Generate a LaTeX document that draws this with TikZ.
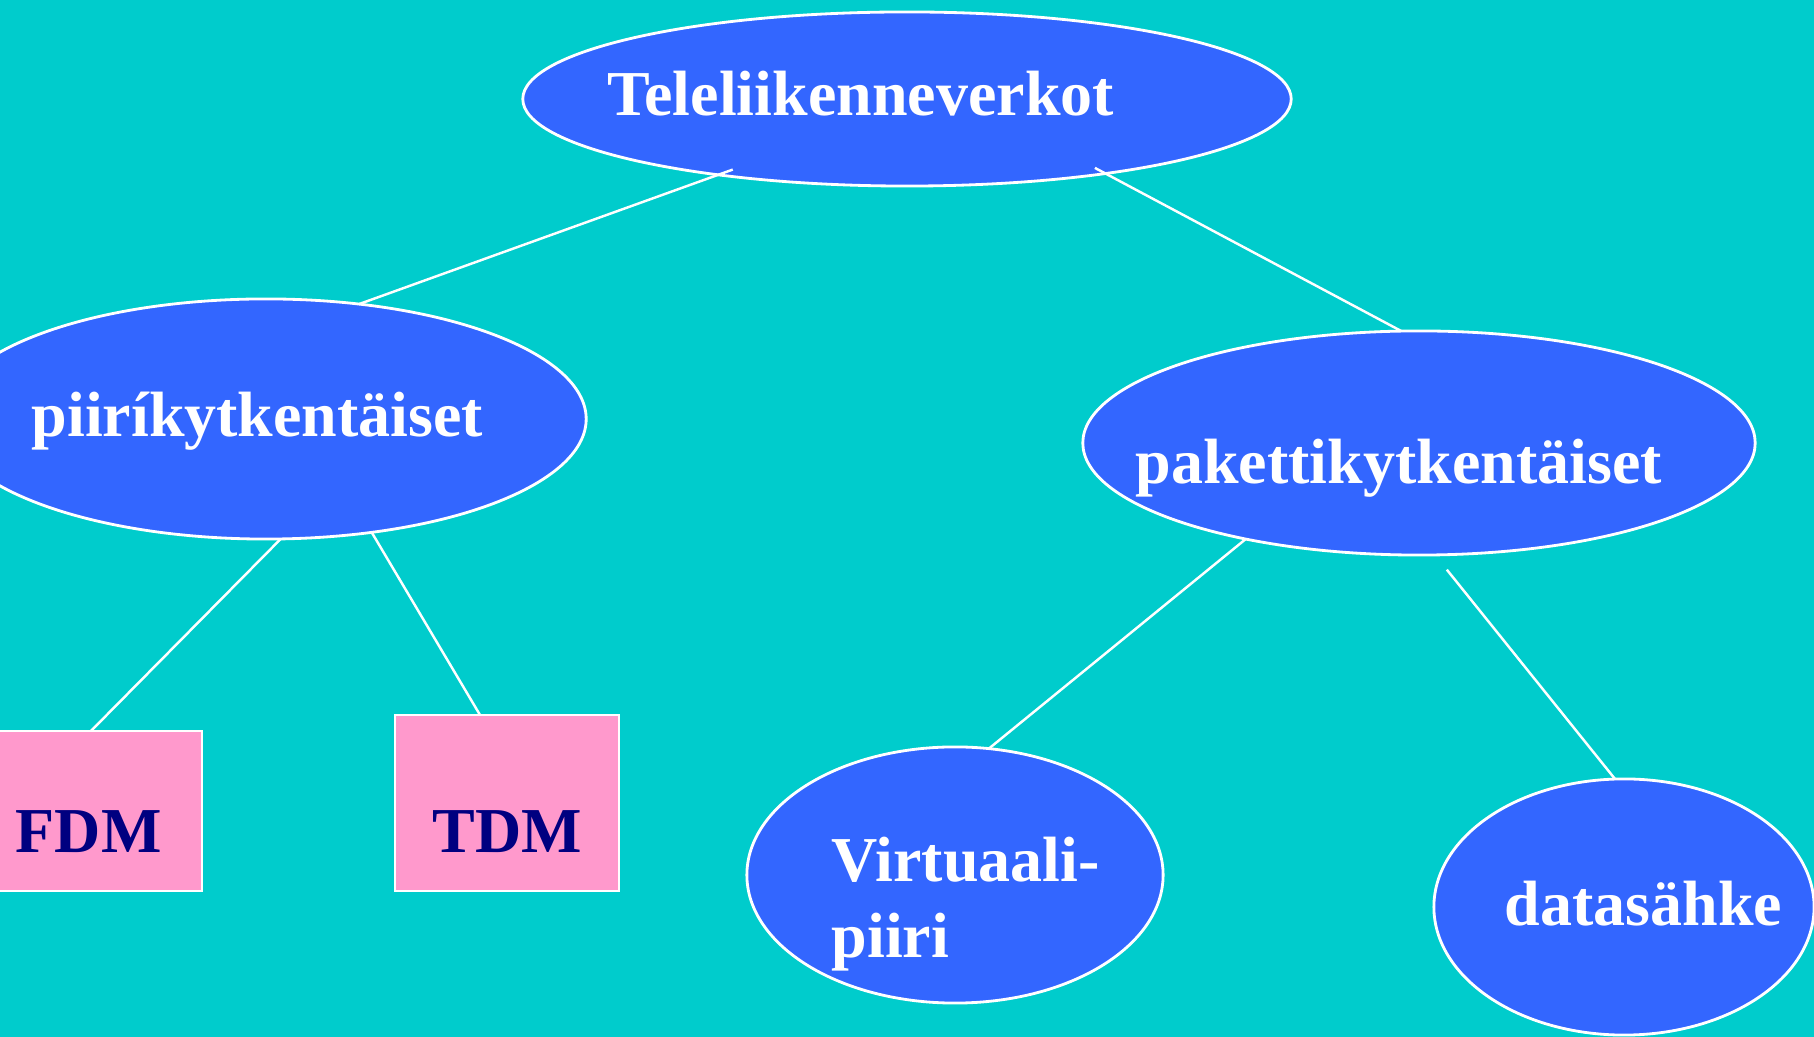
\documentclass[tikz,border=0pt]{standalone}
\usepackage{fontspec}
\setmainfont{Liberation Serif}
\usetikzlibrary{shapes.geometric}
\definecolor{bgteal}{HTML}{00CCCC}
\definecolor{netblue}{HTML}{3366FF}
\definecolor{muxpink}{HTML}{FF99CC}
\definecolor{muxnavy}{HTML}{000080}
\begin{document}
\begin{tikzpicture}[x=0.01cm,y=-0.01cm,
		verkko/.style={ellipse,draw=white,line width=0.8pt,fill=netblue,inner sep=0pt,outer sep=0pt},
		laatikko/.style={rectangle,draw=white,line width=0.8pt,fill=muxpink,inner sep=0pt,outer sep=0pt},
		teksti/.style={anchor=base west,inner sep=0pt,text=white,align=left,font=\fontsize{18.2}{21.8}\selectfont\bfseries},
		kytkin/.style={draw=white,line width=0.7pt}]
	\clip (0,0) rectangle (1814,1037);
	\fill[bgteal] (0,0) rectangle (1814,1037);
	% verkot
	\node[verkko,minimum width=7.68cm,minimum height=1.74cm] (tele) at (907,99) {};
	\node[verkko,minimum width=6.40cm,minimum height=2.40cm] (piiri) at (266,419) {};
	\node[verkko,minimum width=6.72cm,minimum height=2.24cm] (paketti) at (1419,443) {};
	\node[verkko,minimum width=4.16cm,minimum height=2.56cm] (virt) at (955,875) {};
	\node[verkko,minimum width=3.80cm,minimum height=2.56cm] (data) at (1624,907) {};
	\node[laatikko,minimum width=2.04cm,minimum height=1.60cm] (fdm) at (100,811) {};
	\node[laatikko,minimum width=2.24cm,minimum height=1.76cm] (tdm) at (507,803) {};
	% tekstit
	\node[teksti] (tele-t) at (607,116) {Teleliikenneverkot};
	\node[teksti] (piiri-t) at (31,437) {piiríkytkentäiset};
	\node[teksti] (paketti-t) at (1135,484) {pakettikytkentäiset};
	\node[teksti] (virt-t) at (831,958) {Virtuaali-\\piiri};
	\node[teksti] (data-t) at (1504,926) {datasähke};
	\node[teksti,text=muxnavy] (fdm-t) at (15,853) {FDM};
	\node[teksti,text=muxnavy] (tdm-t) at (432,853) {TDM};
	% yhteydet
	\draw[kytkin] ([yshift=0.07cm]tele.204) -- (piiri.51);
	\draw[kytkin] ([yshift=0.07cm]tele.-22) -- (paketti.99);
	\draw[kytkin] (piiri.-83) -- ([xshift=-0.09cm]fdm.north);
	\draw[kytkin] (piiri.-47) -- ([xshift=-0.27cm]tdm.north);
	\draw[kytkin] (paketti.209) -- (virt.75);
	\draw[kytkin] ([yshift=-0.15cm]paketti.-76) -- (data.94);
\end{tikzpicture}
\end{document}
